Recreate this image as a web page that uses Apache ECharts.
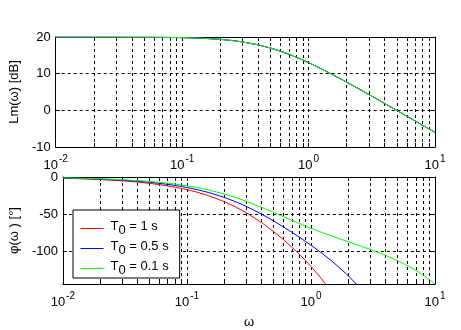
<!DOCTYPE html>
<html><head><meta charset="utf-8">
<script src="https://cdn.jsdelivr.net/npm/echarts@6/dist/echarts.min.js"></script>
<style>html,body{margin:0;padding:0;background:#fff}#c{width:461px;height:330px}</style>
</head><body><div id="c"></div>
<script>
// frequency points (rad/s)
const omega = [0.01,0.015,0.02,0.03,0.04,0.05,0.06,0.07,0.08,0.09,0.1,0.12,0.15,0.2,0.25,0.3,0.4,0.5,0.6,0.7,0.8,0.9,1,1.2,1.5,2,2.5,3,4,5,6,7,8,9,10];
// log magnitude [dB] (same for all T0)
const lm = [19.998,19.996,19.993,19.984,19.972,19.957,19.938,19.916,19.890,19.862,19.830,19.757,19.626,19.355,19.031,18.665,17.852,16.990,16.126,15.287,14.486,13.726,13.010,11.700,10.000,7.696,5.850,4.318,1.871,-0.043,-1.614,-2.945,-4.099,-5.119,-6.031];
// phase [deg]
const phaseT1 = [-1.72,-2.58,-3.44,-5.15,-6.87,-8.58,-10.28,-11.98,-13.67,-15.36,-17.04,-20.37,-25.29,-33.26,-40.89,-48.15,-61.58,-73.65,-84.57,-94.57,-103.83,-112.51,-120.73,-136.14,-157.51,-190.56];
const phaseT05 = [-1.43,-2.15,-2.86,-4.29,-5.72,-7.14,-8.56,-9.98,-11.38,-12.78,-14.18,-16.93,-21.00,-27.53,-33.73,-39.56,-50.12,-59.32,-67.38,-74.52,-80.91,-86.73,-92.08,-101.76,-114.54,-133.26,-150.31,-166.48];
const phaseT01 = [-1.20,-1.80,-2.41,-3.61,-4.80,-6.00,-7.19,-8.37,-9.55,-10.72,-11.88,-14.18,-17.56,-22.95,-28.00,-32.68,-40.95,-47.87,-53.63,-58.47,-62.58,-66.10,-69.17,-74.26,-80.16,-87.42,-93.01,-97.73,-105.79,-112.94,-119.61,-126.02,-132.26,-138.39,-144.43];

const seriesNames = ['T0 = 1 s','T0 = 0.5 s','T0 = 0.1 s'];
const legendTail = ['1 s','0.5 s','0.1 s'];
const seriesColors = ['#ff0000','#0000ff','#00ff00'];
const xMajorTicks = [0.01,0.1,1,10];
const xGridTicks = [0.01,0.02,0.03,0.04,0.05,0.06,0.07,0.08,0.09,0.1,0.2,0.3,0.4,0.5,0.6,0.7,0.8,0.9,1,2,3,4,5,6,7,8,9,10];
const lmTicks = [-10,0,10,20];
const phaseTicks = [-100,-50,0];
const lmRange = [-10,20];
const phaseRange = [-144.43,0];
const xRange = [0.01,10];

const FONT = '"Liberation Sans", Arial, sans-serif';
const FS = 13;
const pairs = (ys) => ys.map((y,i)=>[omega[i],y]);

const powRich = {
  b:{fontSize:FS,fontFamily:FONT,color:'#000',lineHeight:18,verticalAlign:'bottom'},
  s:{fontSize:10,fontFamily:FONT,color:'#000',lineHeight:18,verticalAlign:'top',padding:[0,0,0,1]}
};
function fmtPow(v){ const e=Math.round(Math.log10(v)); return '{b|10}{s|'+e+'}'; }

function xAxes(g){
  return [{
    type:'log',logBase:10,gridIndex:g,min:xRange[0],max:xRange[1],position:'bottom',
    axisLine:{show:true,onZero:false,lineStyle:{color:'#000',width:1}},
    axisTick:{show:true,inside:true,length:4,customValues:xGridTicks,lineStyle:{color:'#000'}},
    axisLabel:{show:true,customValues:xMajorTicks,formatter:fmtPow,rich:powRich,margin:7,color:'#000'},
    splitLine:{show:true,lineStyle:{color:'#000',type:[3,3],width:1}},
    name: g===1?'ω':'', nameLocation:'middle', nameGap:32,
    nameTextStyle:{fontFamily:FONT,fontSize:FS,color:'#000'}
  },{
    type:'log',logBase:10,gridIndex:g,min:xRange[0],max:xRange[1],position:'top',
    axisLine:{show:true,onZero:false,lineStyle:{color:'#000',width:1}},
    axisTick:{show:true,inside:true,length:4,customValues:xGridTicks,lineStyle:{color:'#000'}},
    axisLabel:{show:false},splitLine:{show:false}
  }];
}
function yAxes(g,range,ticks,name){
  return [{
    type:'value',gridIndex:g,min:range[0],max:range[1],position:'left',
    axisLine:{show:true,onZero:false,lineStyle:{color:'#000',width:1}},
    axisTick:{show:true,inside:true,length:4,customValues:ticks,lineStyle:{color:'#000'}},
    axisLabel:{customValues:ticks,fontFamily:FONT,fontSize:FS,color:'#000',margin:5},
    splitLine:{show:true,lineStyle:{color:'#000',type:[3,3],width:1}},
    name:name,nameLocation:'middle',nameGap:24,nameRotate:90,
    nameTextStyle:{fontFamily:FONT,fontSize:FS,color:'#000'}
  },{
    type:'value',gridIndex:g,min:range[0],max:range[1],position:'right',
    axisLine:{show:true,onZero:false,lineStyle:{color:'#000',width:1}},
    axisTick:{show:true,inside:true,length:4,customValues:ticks,lineStyle:{color:'#000'}},
    axisLabel:{show:false},splitLine:{show:false}
  }];
}

const phases = [phaseT1,phaseT05,phaseT01];
const series = [];
seriesNames.forEach((n,i)=>{
  series.push({type:'line',name:n,xAxisIndex:0,yAxisIndex:0,data:pairs(lm),symbol:'none',
    lineStyle:{color:seriesColors[i],width:1},itemStyle:{color:seriesColors[i]},animation:false});
});
seriesNames.forEach((n,i)=>{
  series.push({type:'line',name:n,xAxisIndex:2,yAxisIndex:2,data:pairs(phases[i]),symbol:'none',
    lineStyle:{color:seriesColors[i],width:1},itemStyle:{color:seriesColors[i]},animation:false});
});

const chart = echarts.init(document.getElementById('c'),null,{renderer:'canvas'});
chart.setOption({
  animation:false,
  backgroundColor:'#fff',
  grid:[{left:55,top:37,width:380,height:110},{left:55,top:177,width:380,height:110}],
  xAxis:[...xAxes(0),...xAxes(1)],
  yAxis:[...yAxes(0,lmRange,lmTicks,'Lm(ω) [dB]'),...yAxes(1,phaseRange,phaseTicks,'φ(ω ) [°]')],
  legend:{
    data:seriesNames,orient:'vertical',left:73,top:210,
    backgroundColor:'#fff',borderColor:'#000',borderWidth:1,borderRadius:0,
    padding:[10,11,1,7],itemGap:3,itemWidth:23,itemHeight:12,
    itemStyle:{opacity:0},lineStyle:{width:1},
    selectedMode:false,
    formatter:(name)=>{const i=seriesNames.indexOf(name);return '{t|T}{sub|0}{t| = '+legendTail[i]+'}';},
    textStyle:{padding:[0,0,0,2],rich:{
      t:{fontFamily:FONT,fontSize:FS,color:'#000',lineHeight:17,verticalAlign:'top'},
      sub:{fontFamily:FONT,fontSize:FS,color:'#000',lineHeight:17,verticalAlign:'top',padding:[4,0,0,0]}
    }}
  },
  series:series
});
</script>
</body></html>
